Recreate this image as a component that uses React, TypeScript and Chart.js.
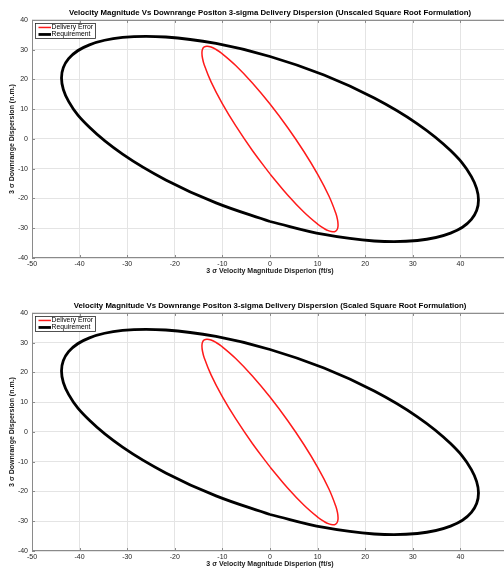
import React, { useEffect, useRef } from "react";
import { Chart, registerables } from "chart.js";

Chart.register(...registerables);

// ---- data ----
const deliveryErrorX = [0, -3.7, -7.15, -10.11, -12.38, -13.81, -14.18, -14.3, -14.18, -13.81, -13.21, -12.38, -11.35, -10.11, -7.15, -3.7, 0, 3.7, 7.15, 10.11, 12.38, 13.81, 14.18, 14.3, 14.18, 13.81, 13.21, 12.38, 11.35, 10.11, 7.15, 3.7, 0];
const deliveryErrorY = [-11.74, -3.86, 4.29, 12.14, 19.17, 24.89, 27.13, 28.91, 30.19, 30.96, 31.2, 30.9, 30.08, 28.74, 24.62, 18.82, 11.74, 3.86, -4.29, -12.14, -19.17, -24.89, -27.13, -28.91, -30.19, -30.96, -31.2, -30.9, -30.08, -28.74, -24.62, -18.82, -11.74];
const requirementX = [0, -11.34, -21.9, -30.97, -37.93, -42.31, -43.8, -42.31, -37.93, -30.97, -21.9, -11.34, 0, 11.34, 21.9, 30.97, 37.93, 42.31, 43.8, 42.31, 37.93, 30.97, 21.9, 11.34, 0];
const requirementY = [-27.73, -21.48, -13.76, -5.1, 3.91, 12.64, 20.52, 27.0, 31.64, 34.12, 34.28, 32.1, 27.73, 21.48, 13.76, 5.1, -3.91, -12.64, -20.52, -27.0, -31.64, -34.12, -34.28, -32.1, -27.73];

const chartTitles = [
  "Velocity Magnitude Vs Downrange Positon 3-sigma Delivery Dispersion (Unscaled Square Root Formulation)",
  "Velocity Magnitude Vs Downrange Positon 3-sigma Delivery Dispersion (Scaled Square Root Formulation)",
];
const xAxisLabel = "3 \u03c3 Velocity Magnitude Disperion (ft/s)";
const yAxisLabel = "3 \u03c3 Downrange Dispersion (n.m.)";
const seriesNames = ["Delivery Error", "Requirement"];
const seriesColors = ["#ff1a1a", "#000000"];
const seriesWidths = [1.5, 2.8];
const xRange = [-50, 50];
const yRange = [-40, 40];
const tickStep = 10;

const FONT = "'Liberation Sans', Arial, Helvetica, sans-serif";

const framePlugin = {
  id: "matlabFrame",
  afterDraw(chart: any) {
    const { ctx, chartArea: a, scales } = chart;
    ctx.save();
    // axes box
    ctx.strokeStyle = "#8a8a8a";
    ctx.lineWidth = 1;
    ctx.strokeRect(a.left + 0.5, a.top + 0.5, a.right - a.left - 1, a.bottom - a.top - 1);
    // inward ticks
    ctx.beginPath();
    scales.x.ticks.forEach((t: any) => {
      const px = Math.round(scales.x.getPixelForValue(t.value)) + 0.5;
      ctx.moveTo(px, a.bottom);
      ctx.lineTo(px, a.bottom - 3);
      ctx.moveTo(px, a.top);
      ctx.lineTo(px, a.top + 3);
    });
    scales.y.ticks.forEach((t: any) => {
      const py = Math.round(scales.y.getPixelForValue(t.value)) + 0.5;
      ctx.moveTo(a.left, py);
      ctx.lineTo(a.left + 3, py);
      ctx.moveTo(a.right, py);
      ctx.lineTo(a.right - 3, py);
    });
    ctx.stroke();

    // legend box
    const lx = a.left + 3.5;
    const ly = a.top + 3.5;
    const lw = 60;
    const lh = 15;
    ctx.fillStyle = "#ffffff";
    ctx.fillRect(lx, ly, lw, lh);
    ctx.strokeStyle = "#262626";
    ctx.lineWidth = 0.8;
    ctx.strokeRect(lx, ly, lw, lh);
    ctx.font = `6.8px ${FONT}`;
    ctx.textBaseline = "middle";
    ctx.textAlign = "left";
    seriesNames.forEach((name, i) => {
      const cy = ly + 4 + i * 7;
      ctx.strokeStyle = seriesColors[i];
      ctx.lineWidth = seriesWidths[i];
      ctx.beginPath();
      ctx.moveTo(lx + 3, cy);
      ctx.lineTo(lx + 15.5, cy);
      ctx.stroke();
      ctx.fillStyle = "#000000";
      ctx.fillText(name, lx + 16, cy);
    });
    ctx.restore();
  },
};

function makeData() {
  return {
    datasets: [
      {
        label: seriesNames[0],
        data: deliveryErrorX.map((x, i) => ({ x, y: deliveryErrorY[i] })),
        borderColor: seriesColors[0],
        borderWidth: seriesWidths[0],
        showLine: true,
        pointRadius: 0,
        tension: 0.4,
        fill: false,
      },
      {
        label: seriesNames[1],
        data: requirementX.map((x, i) => ({ x, y: requirementY[i] })),
        borderColor: seriesColors[1],
        borderWidth: seriesWidths[1],
        showLine: true,
        pointRadius: 0,
        tension: 0.4,
        fill: false,
      },
    ],
  };
}

function Plot({ title, top }: { title: string; top: number }) {
  const ref = useRef<HTMLCanvasElement | null>(null);
  useEffect(() => {
    if (!ref.current) return;
    const chart = new Chart(ref.current, {
      type: "scatter",
      data: makeData() as any,
      plugins: [framePlugin],
      options: {
        animation: false,
        responsive: false,
        devicePixelRatio: 1,
        layout: { padding: { left: 0, right: 32, top: 0, bottom: 0 } },
        plugins: {
          legend: { display: false },
          tooltip: { enabled: false },
          title: {
            display: true,
            fullSize: false,
            text: title,
            color: "#000000",
            font: { family: FONT, size: 7.8, weight: "bold" },
            padding: { top: 8, bottom: 2.6 },
          },
        },
        scales: {
          x: {
            type: "linear",
            min: xRange[0],
            max: xRange[1],
            afterFit: (s: any) => {
              s.height = 19;
              s.paddingLeft = 0;
              s.paddingRight = 0;
            },
            ticks: {
              stepSize: tickStep,
              color: "#262626",
              font: { family: FONT, size: 7 },
              padding: 2,
              maxRotation: 0,
            },
            grid: { color: "#e4e4e4", drawTicks: false },
            border: { display: false },
            title: {
              display: true,
              text: xAxisLabel,
              color: "#1a1a1a",
              font: { family: FONT, size: 7, weight: "bold" },
              padding: { top: 0, bottom: 2 },
            },
          },
          y: {
            type: "linear",
            min: yRange[0],
            max: yRange[1],
            afterFit: (s: any) => {
              s.width = 32;
              s.paddingTop = 0;
              s.paddingBottom = 0;
            },
            ticks: {
              stepSize: tickStep,
              color: "#262626",
              font: { family: FONT, size: 7 },
              padding: 4,
            },
            grid: { color: "#e4e4e4", drawTicks: false },
            border: { display: false },
            title: {
              display: true,
              text: yAxisLabel,
              color: "#1a1a1a",
              font: { family: FONT, size: 7, weight: "bold" },
              padding: { top: 8, bottom: 0 },
            },
          },
        },
      } as any,
    });
    return () => chart.destroy();
  }, [title]);
  return (
    <canvas
      ref={ref}
      width={540}
      height={277}
      style={{ position: "absolute", left: 0, top, width: 540, height: 277 }}
    />
  );
}

export default function App() {
  return (
    <div
      style={{
        position: "fixed",
        left: 0,
        top: 0,
        width: 504,
        height: 570,
        overflow: "hidden",
        background: "#ffffff",
      }}
    >
      <Plot title={chartTitles[0]} top={0} />
      <Plot title={chartTitles[1]} top={293} />
    </div>
  );
}
